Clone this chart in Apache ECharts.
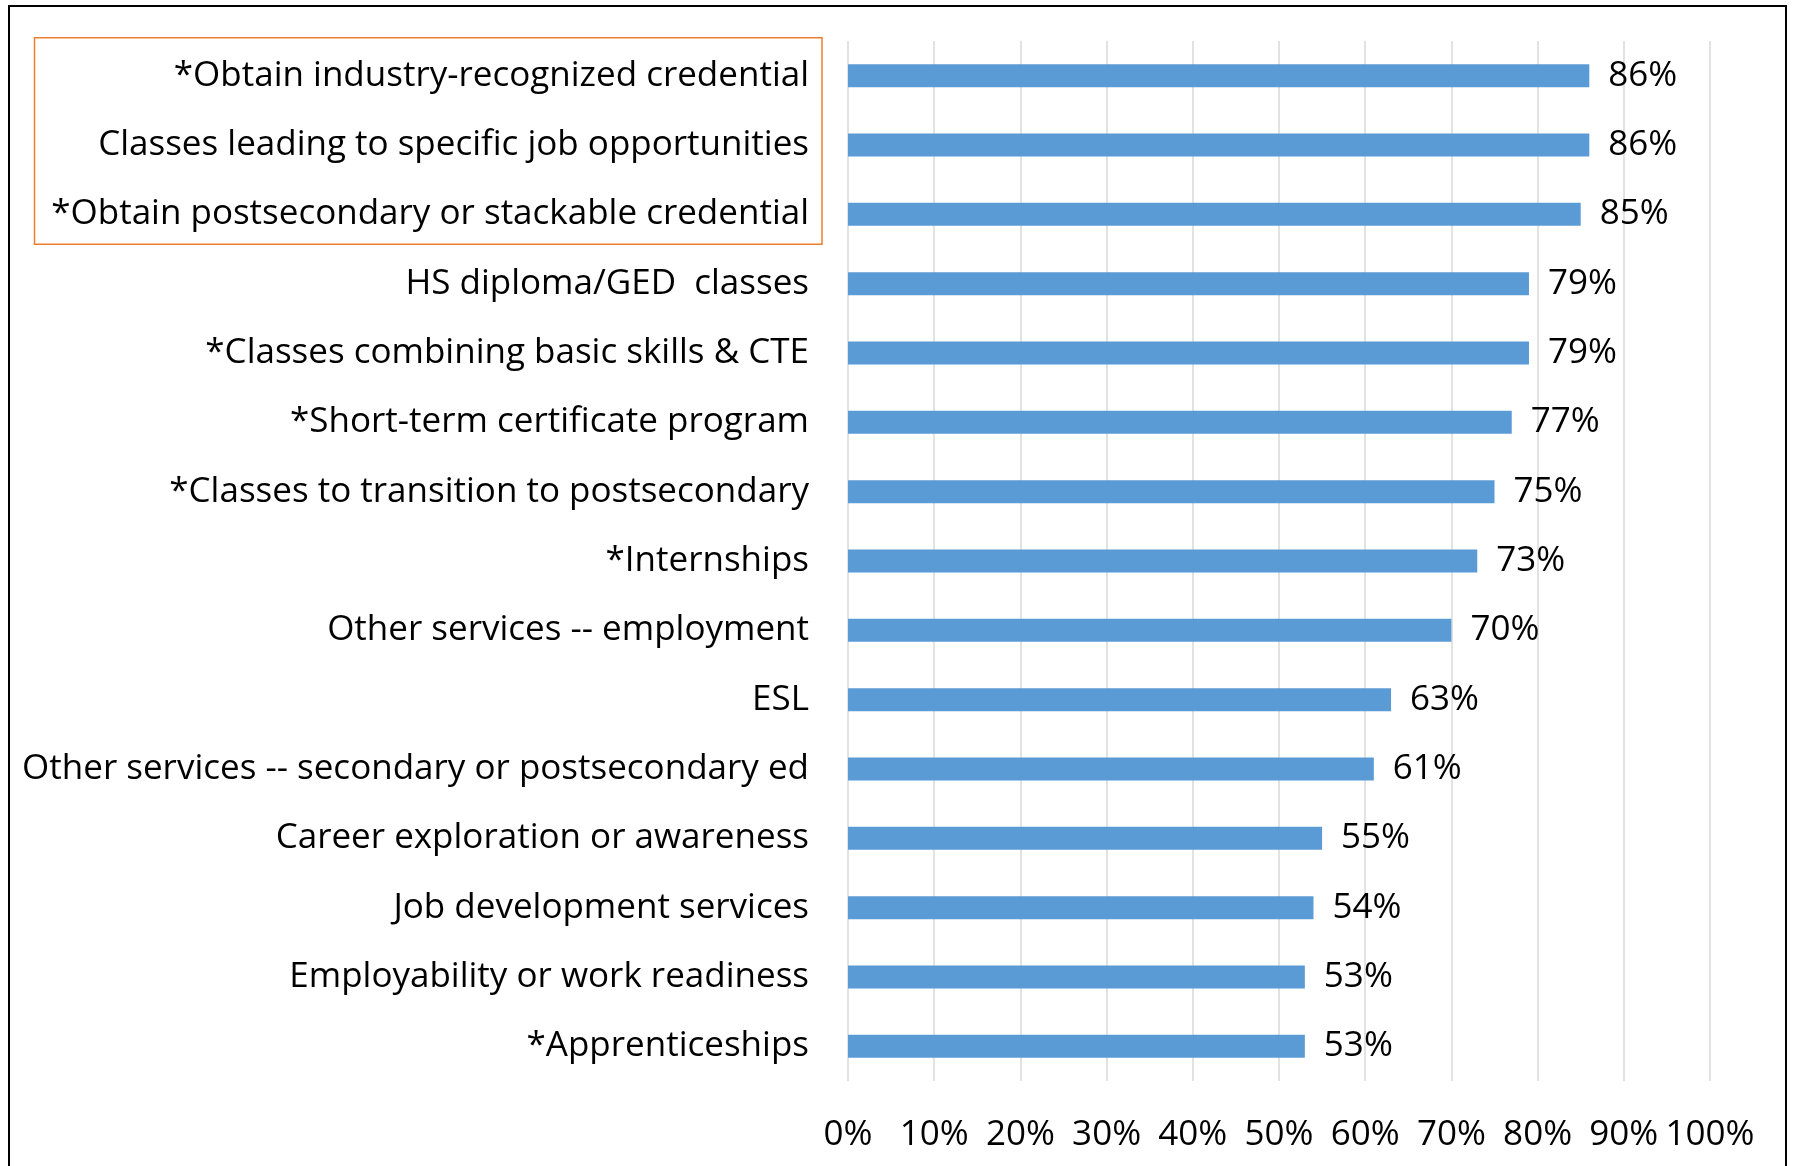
<!DOCTYPE html>
<html>
<head>
<meta charset="utf-8">
<title>Services offered</title>
<script src="https://cdn.jsdelivr.net/npm/echarts@6/dist/echarts.min.js"></script>
<style>
  html, body { margin: 0; padding: 0; background: #ffffff; }
  #chart { width: 1795px; height: 1166px; }
</style>
</head>
<body>
<div id="chart"></div>
<script>
// Service categories, top to bottom
const categories = [
  '*Obtain industry-recognized credential',
  'Classes leading to specific job opportunities',
  '*Obtain postsecondary or stackable credential',
  'HS diploma/GED  classes',
  '*Classes combining basic skills & CTE',
  '*Short-term certificate program',
  '*Classes to transition to postsecondary',
  '*Internships',
  'Other services -- employment',
  'ESL',
  'Other services -- secondary or postsecondary ed',
  'Career exploration or awareness',
  'Job development services',
  'Employability or work readiness',
  '*Apprenticeships'
];

// Share offering each service (percent)
const shares = [86, 86, 85, 79, 79, 77, 75, 73, 70, 63, 61, 55, 54, 53, 53];

// Value axis ticks
const axisMin = 0;
const axisMax = 100;
const axisStep = 10;

// Number of top rows outlined as a group
const highlightedRows = 3;

const FONT = "'Open Sans', sans-serif";
const FONT_SIZE = 35;

const chart = echarts.init(document.getElementById('chart'), null, { renderer: 'canvas' });

chart.setOption({
  animation: false,
  backgroundColor: '#ffffff',
  grid: { left: 848, right: 85, top: 41, bottom: 85, containLabel: false },
  xAxis: {
    type: 'value',
    min: axisMin,
    max: axisMax,
    interval: axisStep,
    axisLine: { show: false },
    axisTick: { show: false },
    splitLine: { show: true, lineStyle: { color: '#d9d9d9', width: 1.5 } },
    axisLabel: {
      formatter: '{value}%',
      color: '#000000',
      fontFamily: FONT,
      fontSize: FONT_SIZE,
      margin: 37
    }
  },
  yAxis: {
    type: 'category',
    data: categories,
    inverse: true,
    axisLine: { show: false },
    axisTick: { show: false },
    axisLabel: {
      color: '#000000',
      fontFamily: FONT,
      fontSize: FONT_SIZE,
      margin: 39,
      padding: [9, 0, 0, 0]
    }
  },
  series: [{
    type: 'bar',
    data: shares,
    barWidth: 23,
    itemStyle: { color: '#5b9bd5' },
    label: {
      show: true,
      position: 'right',
      distance: 19,
      formatter: '{c}%',
      color: '#000000',
      fontFamily: FONT,
      fontSize: FONT_SIZE,
      padding: [9, 0, 0, 0]
    }
  }]
});

// Frame around the whole figure and an outline around the top group of rows
function drawDecorations() {
  const first = chart.convertToPixel({ yAxisIndex: 0 }, categories[0]);
  const last = chart.convertToPixel({ yAxisIndex: 0 }, categories[highlightedRows - 1]);
  const zeroX = chart.convertToPixel({ xAxisIndex: 0 }, axisMin);
  const top = first - 38;
  const bottom = last + 30;
  chart.setOption({
    graphic: [
      {
        type: 'rect',
        shape: { x: 9, y: 6, width: 1777, height: 1200 },
        style: { fill: 'none', stroke: '#000000', lineWidth: 2 },
        silent: true
      },
      {
        type: 'rect',
        shape: { x: 34.5, y: top, width: zeroX - 26 - 34.5, height: bottom - top },
        style: { fill: 'none', stroke: '#ed7d31', lineWidth: 1.5 },
        silent: true
      }
    ]
  });
}
drawDecorations();
</script>
</body>
</html>
